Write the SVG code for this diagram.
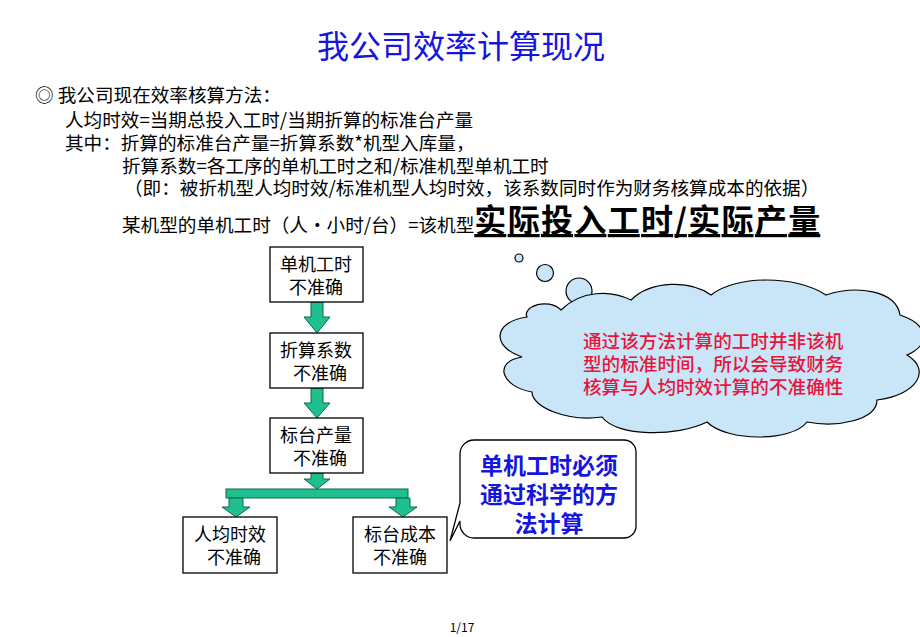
<svg xmlns="http://www.w3.org/2000/svg" width="920" height="637" viewBox="0 0 920 637">
<style>
text{font-family:"Noto Sans CJK SC","Liberation Sans",sans-serif;}
.t{font-size:18.6px;fill:#000}
.box{fill:#fff;stroke:#000;stroke-width:1.3}
.bt{font-size:18px;fill:#000;text-anchor:middle}
.ar{fill:#1fbf8f;stroke:#0a6a4a;stroke-width:1}
</style>
<rect width="920" height="637" fill="#fff"/>
<text x="461" y="58" font-size="32" fill="#1515e0" text-anchor="middle">我公司效率计算现况</text>
<text class="t" x="35" y="102">◎ 我公司现在效率核算方法：</text>
<text class="t" x="65" y="127">人均时效=当期总投入工时/当期折算的标准台产量</text>
<text class="t" x="65" y="150">其中：折算的标准台产量=折算系数*机型入库量，</text>
<text class="t" x="122" y="173">折算系数=各工序的单机工时之和/标准机型单机工时</text>
<text class="t" x="124" y="195">（即：被折机型人均时效/标准机型人均时效，该系数同时作为财务核算成本的依据）</text>
<text class="t" x="122" y="232">某机型的单机工时（人・小时/台）=该机型<tspan font-size="32" font-weight="bold" text-decoration="underline" textLength="346">实际投入工时/实际产量</tspan></text>
<g id="connectors">
<path class="ar" d="M311,302h12v15h7l-13,16l-13,-16h7z"/>
<path class="ar" d="M311,388h12v15h7l-13,15l-13,-15h7z"/>
<path class="ar" d="M311,473h12v6h7l-13,10l-13,-10h7z"/>
<rect class="ar" x="226" y="489" width="182" height="9"/>
<path class="ar" d="M229,498h14v9h7l-14,10l-14,-10h7z"/>
<path class="ar" d="M396,498h14v9h7l-14,10l-14,-10h7z"/>
</g>
<g id="n1"><rect class="box" x="270" y="247" width="93" height="55"/><text class="bt" x="316" y="271">单机工时</text><text class="bt" x="316" y="294">不准确</text></g>
<g id="n2"><rect class="box" x="270" y="333" width="93" height="55"/><text class="bt" x="316" y="357">折算系数</text><text class="bt" x="320" y="380">不准确</text></g>
<g id="n3"><rect class="box" x="270" y="418" width="93" height="55"/><text class="bt" x="316" y="442">标台产量</text><text class="bt" x="320" y="465">不准确</text></g>
<g id="n4"><rect class="box" x="183" y="517" width="94" height="56"/><text class="bt" x="230" y="541">人均时效</text><text class="bt" x="234" y="564">不准确</text></g>
<g id="n5"><rect class="box" x="353" y="517" width="94" height="56"/><text class="bt" x="400" y="541">标台成本</text><text class="bt" x="400" y="564">不准确</text></g>
<g id="callout">
<path d="M474,440h150a12,12 0 0 1 12,12v74a12,12 0 0 1 -12,12h-150a14,14 0 0 1 -14,-14v-3l-10,20l10,-38v-49a14,14 0 0 1 14,-14z" fill="#fff" stroke="#000" stroke-width="1.3"/>
<g font-size="23" font-weight="bold" fill="#1515e0" text-anchor="middle"><text x="549" y="474">单机工时必须</text><text x="549" y="503">通过科学的方</text><text x="549" y="532">法计算</text></g>
</g>
<g id="cloud" fill="#c8e6f8" stroke="#000" stroke-width="1.2">
<circle cx="519" cy="258" r="4"/><circle cx="545" cy="273" r="8.5"/><circle cx="579" cy="291" r="13"/>
<path d="M561,310c20,-20 50,-20 70,-10c20,-20 60,-20 80,-5c25,-20 85,-20 115,0c30,-10 70,-5 74,20c30,10 30,30 7,40c25,15 10,40 -30,45c0,20 -40,28 -70,22c-15,20 -80,20 -100,0c-30,15 -90,15 -105,-5c-35,5 -70,-10 -70,-25c-30,-5 -40,-30 -10,-35c-30,-10 -30,-35 5,-40c-5,-10 20,-20 34,-7z"/>
<g font-size="18.6" font-weight="500" fill="#e8143c" stroke="none"><text x="583" y="348">通过该方法计算的工时并非该机</text><text x="583" y="371">型的标准时间，所以会导致财务</text><text x="583" y="394">核算与人均时效计算的不准确性</text></g>
</g>
<text x="462" y="632" font-size="12" text-anchor="middle" font-family="Liberation Sans">1/17</text>
</svg>
